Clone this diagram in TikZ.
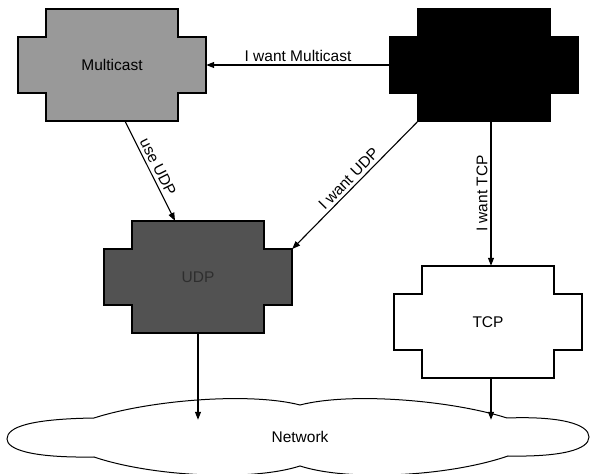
\documentclass[tikz,border=0pt]{standalone}
\usepackage{fontspec}
\setmainfont{Liberation Sans}
\usetikzlibrary{arrows.meta,calc,positioning}
\tikzset{
  boxline/.style={line width=1.2pt,line join=miter},
  boxlabel/.style={inner sep=0pt,minimum width=188pt,minimum height=112pt},
  conn/.style={->,line width=1.1pt},
  lbl/.style={inner sep=3pt}
}
\newcommand{\crossbox}[4]{\begin{scope}[shift={#2}]
  \draw[boxline,fill=#3] (-66,-56) -- (66,-56) -- (66,-28) -- (94,-28) -- (94,28) -- (66,28)
    -- (66,56) -- (-66,56) -- (-66,28) -- (-94,28) -- (-94,-28) -- (-66,-28) -- cycle;
  \node[boxlabel] (#1) at (0,0) {#4};\end{scope}}

\begin{document}
\begin{tikzpicture}[>={Triangle[length=8pt,width=6pt]},x=1pt,y=1pt,font=\fontsize{15.5}{18}\selectfont]
\useasboundingbox (0,0) rectangle (590,474);
\clip (0,0) rectangle (590,474);
\crossbox{mc}{(112,409)}{black!40}{Multicast}
\crossbox{app}{(484,409)}{black}{}
\crossbox{udp}{(198,197)}{black!68}{\color{black!82}UDP}
\crossbox{tcp}{(488,152)}{white}{TCP}
\draw[line width=1pt] (94,56) .. controls (150,74) and (250,82) .. (300,69)
  .. controls (350,82) and (450,74) .. (507,56)
  .. controls (560,58) and (589,50) .. (589,37) .. controls (589,24) and (560,17) .. (508,18)
  .. controls (450,-2) and (350,-8) .. (300,8) .. controls (250,-8) and (150,-2) .. (94,17)
  .. controls (30,16) and (7,25) .. (7,35) .. controls (7,47) and (30,55) .. cycle;
\node[inner sep=0pt,minimum height=34pt] (net) at (300,37) {Network};
\draw[conn] (app.west) -- node[lbl,above] (lmc) {I want Multicast} (mc.east);
\draw[conn] ([xshift=13pt]mc.south) -- node[lbl,sloped,above] (luse) {use UDP} ([xshift=-23pt]udp.north);
\draw[conn] ([xshift=-66pt]app.south) -- node[lbl,sloped,above,pos=0.5] (ludp) {I want UDP} ([yshift=28pt]udp.east);
\draw[conn] ([xshift=3pt]tcp.north |- app.south) -- node[lbl,rotate=90,anchor=south] (ltcp) {I want TCP} ([xshift=3pt]tcp.north);
\draw[conn] (udp.south) -- (udp.south |- net.north);
\draw[conn] ([xshift=3pt]tcp.south) -- ([xshift=3pt]tcp.south |- net.north);
\end{tikzpicture}
\end{document}
